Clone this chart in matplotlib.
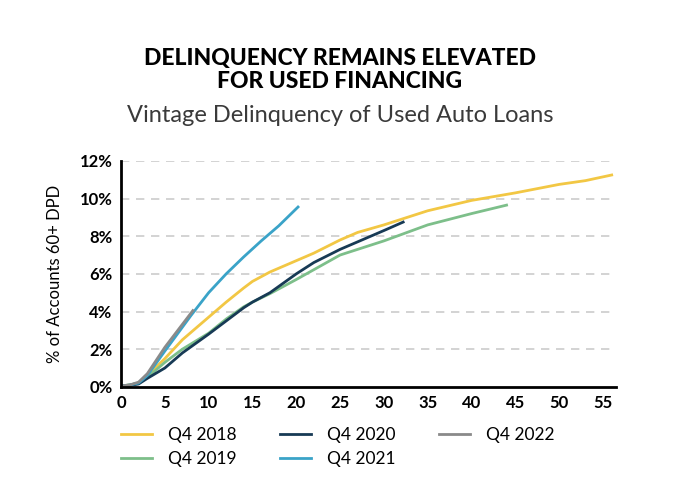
import matplotlib
matplotlib.use("Agg")
import matplotlib.pyplot as plt

# Vintage delinquency (% of accounts 60+ DPD) by months on book
x_2018 = [0, 1, 2, 3, 5, 7, 10, 12, 14, 15, 17, 20, 22, 25, 27, 30, 35, 40, 45, 50, 53, 56]
y_2018 = [0.05, 0.1, 0.2, 0.6, 1.5, 2.5, 3.7, 4.5, 5.25, 5.6, 6.1, 6.7, 7.1, 7.8, 8.2, 8.6, 9.35, 9.9, 10.3, 10.75, 10.95, 11.25]

x_2019 = [0, 1, 2, 3, 5, 7, 10, 12, 14, 15, 17, 20, 25, 30, 35, 40, 44]
y_2019 = [0.05, 0.1, 0.2, 0.5, 1.3, 2.0, 2.85, 3.6, 4.25, 4.5, 4.95, 5.7, 7.0, 7.75, 8.6, 9.2, 9.65]

x_2020 = [0, 1, 2, 3, 5, 7, 10, 12, 14, 15, 17, 20, 22, 25, 28, 30, 32.2]
y_2020 = [0.05, 0.08, 0.15, 0.45, 1.0, 1.8, 2.8, 3.5, 4.2, 4.5, 5.0, 6.0, 6.6, 7.3, 7.9, 8.3, 8.75]

x_2021 = [0, 1, 2, 3, 5, 8, 10, 12, 14, 16, 18, 20.2]
y_2021 = [0.05, 0.1, 0.2, 0.6, 1.9, 3.8, 5.0, 6.0, 6.9, 7.75, 8.55, 9.55]

x_2022 = [0, 1, 2, 3, 5, 8.2]
y_2022 = [0.05, 0.1, 0.25, 0.7, 2.1, 4.05]

labels = ["Q4 2018", "Q4 2019", "Q4 2020", "Q4 2021", "Q4 2022"]
colors = ["#f2c744", "#7dbf8a", "#173a55", "#3aa3c8", "#8a8a8a"]

fig = plt.figure(figsize=(6.8, 4.86), dpi=100)
ax = fig.add_axes([0.178, 0.204, 0.728, 0.465])

series = [(x_2018, y_2018), (x_2019, y_2019), (x_2020, y_2020),
          (x_2021, y_2021), (x_2022, y_2022)]
for (xs, ys), lab, c in zip(series, labels, colors):
    ax.plot(xs, ys, color=c, lw=2, label=lab, solid_joinstyle="round")

ax.set_xlim(0, 56.5)
ax.set_ylim(0, 12)
ax.set_xticks(range(0, 56, 5))
ax.set_yticks(range(0, 13, 2))
ax.set_yticklabels([f"{v}%" for v in range(0, 13, 2)])
for v in range(2, 13, 2):
    ax.axhline(v, color="#cccccc", lw=1.2, ls=(0, (5, 4)), zorder=0)

for s in ["top", "right"]:
    ax.spines[s].set_visible(False)
ax.spines["left"].set_linewidth(2)
ax.spines["bottom"].set_linewidth(2)
ax.tick_params(length=0, pad=6, labelsize=12)
for t in ax.get_xticklabels() + ax.get_yticklabels():
    t.set_fontweight("bold")
    t.set_family("Lato")

ax.set_ylabel("% of Accounts 60+ DPD", fontsize=12, family="Lato", labelpad=12)

fig.text(0.5, 0.880, "DELINQUENCY REMAINS ELEVATED", ha="center", va="center",
         fontsize=16.5, fontweight="black", family="Lato")
fig.text(0.5, 0.833, "FOR USED FINANCING", ha="center", va="center",
         fontsize=16.5, fontweight="black", family="Lato")
fig.text(0.5, 0.762, "Vintage Delinquency of Used Auto Loans", ha="center", va="center",
         fontsize=17, fontweight="normal", family="Lato", color="#3a3a3a")

fig.legend(loc="upper left", bbox_to_anchor=(0.168, 0.135), ncol=3, frameon=False,
           prop={"family": "Lato", "size": 12.5}, handlelength=1.8, columnspacing=2.5,
           labelspacing=0.45, handletextpad=0.9, borderaxespad=0)

fig.savefig("out.png", dpi=100)
